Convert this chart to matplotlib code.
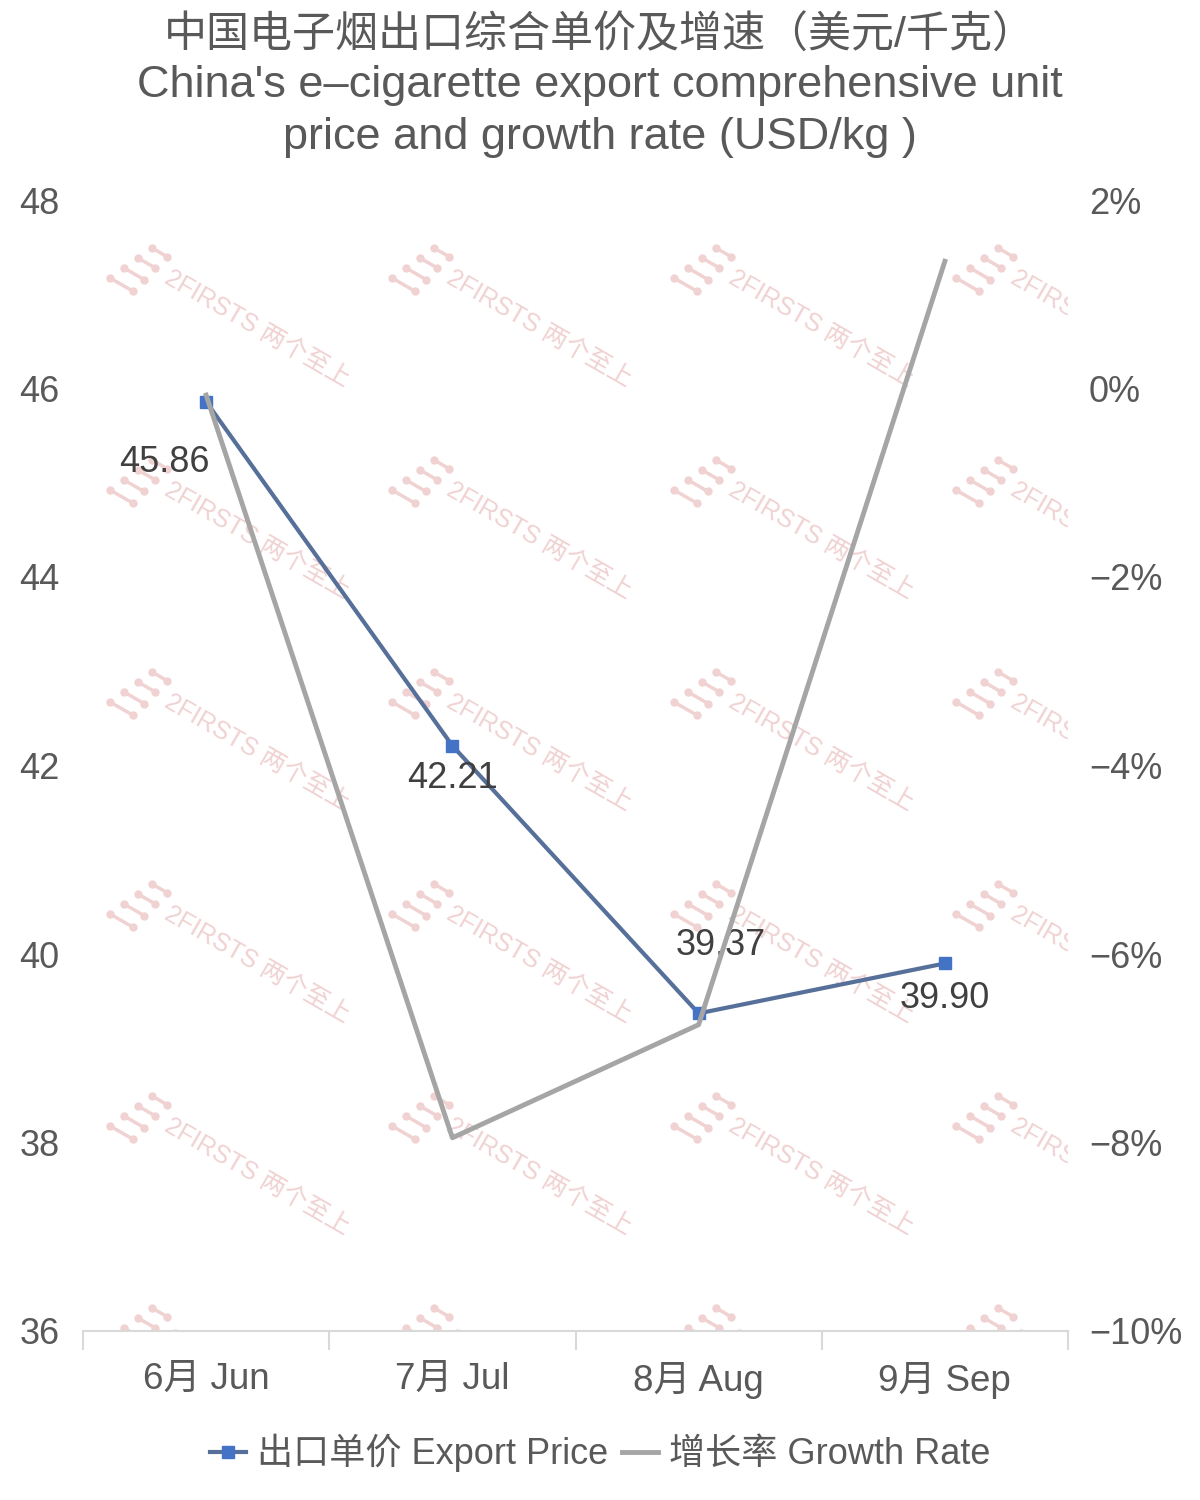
import matplotlib
matplotlib.use("Agg")
import matplotlib.pyplot as plt
import numpy as np
from matplotlib.lines import Line2D

plt.rcParams['font.family'] = ['Liberation Sans', 'Noto Sans CJK SC', 'DejaVu Sans']

months = ["6月 Jun", "7月 Jul", "8月 Aug", "9月 Sep"]
price = [45.86, 42.21, 39.37, 39.90]
growth = [-0.07, -7.95, -6.75, 1.35]
price_labels = ["45.86", "42.21", "39.37", "39.90"]
left_ticks = [36, 38, 40, 42, 44, 46, 48]
right_ticks = [-10, -8, -6, -4, -2, 0, 2]

W, H = 1200, 1500
fig = plt.figure(figsize=(12, 15), dpi=100)
L, R, B, T = 83, 1068, 1331, 200
ax = fig.add_axes([L / W, 1 - B / H, (R - L) / W, (B - T) / H])
ax2 = ax.twinx()

txt = "#595959"
x = np.arange(len(months))

# watermark
wm_color = "#f0d2d2"
cols = [108, 390, 672, 954]
rows = [242, 454, 666, 878, 1090, 1302]
def ax_coords(px, py):
    return (px - L) / (R - L), (B - py) / (B - T)
for cx in cols:
    for cy in rows:
        ax0, ay0 = ax_coords(cx + 58, cy + 34)
        ax.text(ax0, ay0, "2FIRSTS 两个至上", transform=ax.transAxes, rotation=-30,
                rotation_mode='anchor', ha='left', va='center', fontsize=18,
                color=wm_color, clip_on=True, zorder=0)
        # small icon strokes
        for k in range(4):
            sx, sy = cx + 2 + k * 14, cy + 36 - k * 10
            length = 26 - k * 3
            x0, y0 = ax_coords(sx, sy)
            x1, y1 = ax_coords(sx + length * 0.87, sy + length * 0.5)
            ax.plot([x0, x1], [y0, y1], transform=ax.transAxes, color=wm_color,
                    lw=2.5, clip_on=True, zorder=0, solid_capstyle='round')
            ax.plot([x0, x1], [y0, y1], 'o', transform=ax.transAxes, color=wm_color,
                    ms=5, clip_on=True, zorder=0)

# price line (left axis)
ax.plot(x, price, color="#56709a", lw=3, marker='s', ms=9,
        markerfacecolor="#4472c4", markeredgecolor="#4472c4", zorder=3)
ax.set_ylim(36, 48)
ax.set_xlim(-0.5, 3.5)
ax.set_yticks(left_ticks)
ax.set_yticklabels([str(t) for t in left_ticks])

# growth line (right axis)
ax2.plot(x, growth, color="#a5a5a5", lw=3.5, zorder=4)
ax2.set_ylim(-10, 2)
ax2.set_yticks(right_ticks)
ax2.set_yticklabels([("−" if t < 0 else "") + f"{abs(t)}%" for t in right_ticks])

for a in (ax, ax2):
    for s in a.spines.values():
        s.set_visible(False)
    a.tick_params(axis='y', length=0, labelsize=26, labelcolor=txt)
ax.tick_params(axis='y', pad=17)
ax2.tick_params(axis='y', pad=15)
ax.spines['bottom'].set_visible(True)
ax.spines['bottom'].set_color("#d9d9d9")
ax.spines['bottom'].set_linewidth(1.5)
ax.set_xticks(x)
ax.set_xticklabels(months)
ax.tick_params(axis='x', length=0, labelsize=26.5, labelcolor=txt, pad=22)
ax.set_xticks(np.arange(-0.5, 4, 1), minor=True)
ax.tick_params(axis='x', which='minor', length=14, color="#d9d9d9", width=1.5)

# data labels
offs = [(-42, -61), (0, -33), (22, 68), (0, -35)]
for i, (v, lab) in enumerate(zip(price, price_labels)):
    ax.annotate(lab, (x[i], v), xytext=offs[i], textcoords='offset pixels',
                ha='center', va='center', fontsize=26, color="#404040", zorder=5)

fig.text(0.5, 1 - 36 / H, "中国电子烟出口综合单价及增速（美元/千克）", ha='center', va='center',
         fontsize=31, color=txt)
fig.text(0.5, 1 - 86 / H, "China's e–cigarette export comprehensive unit", ha='center', va='center',
         fontsize=32.5, color=txt)
fig.text(0.5, 1 - 137 / H, "price and growth rate (USD/kg )", ha='center', va='center',
         fontsize=32.5, color=txt)

h1 = Line2D([], [], color="#56709a", lw=3, marker='s', ms=9,
            markerfacecolor="#4472c4", markeredgecolor="#4472c4")
h2 = Line2D([], [], color="#a5a5a5", lw=3.5)
fig.legend([h1, h2], ["出口单价 Export Price", "增长率 Growth Rate"], loc='center',
           bbox_to_anchor=(0.5, 1 - 1453 / H), ncol=2, frameon=False, fontsize=26,
           labelcolor=txt, handlelength=1.0, handletextpad=0.3, columnspacing=0.4)

fig.savefig("out.png", dpi=100)
